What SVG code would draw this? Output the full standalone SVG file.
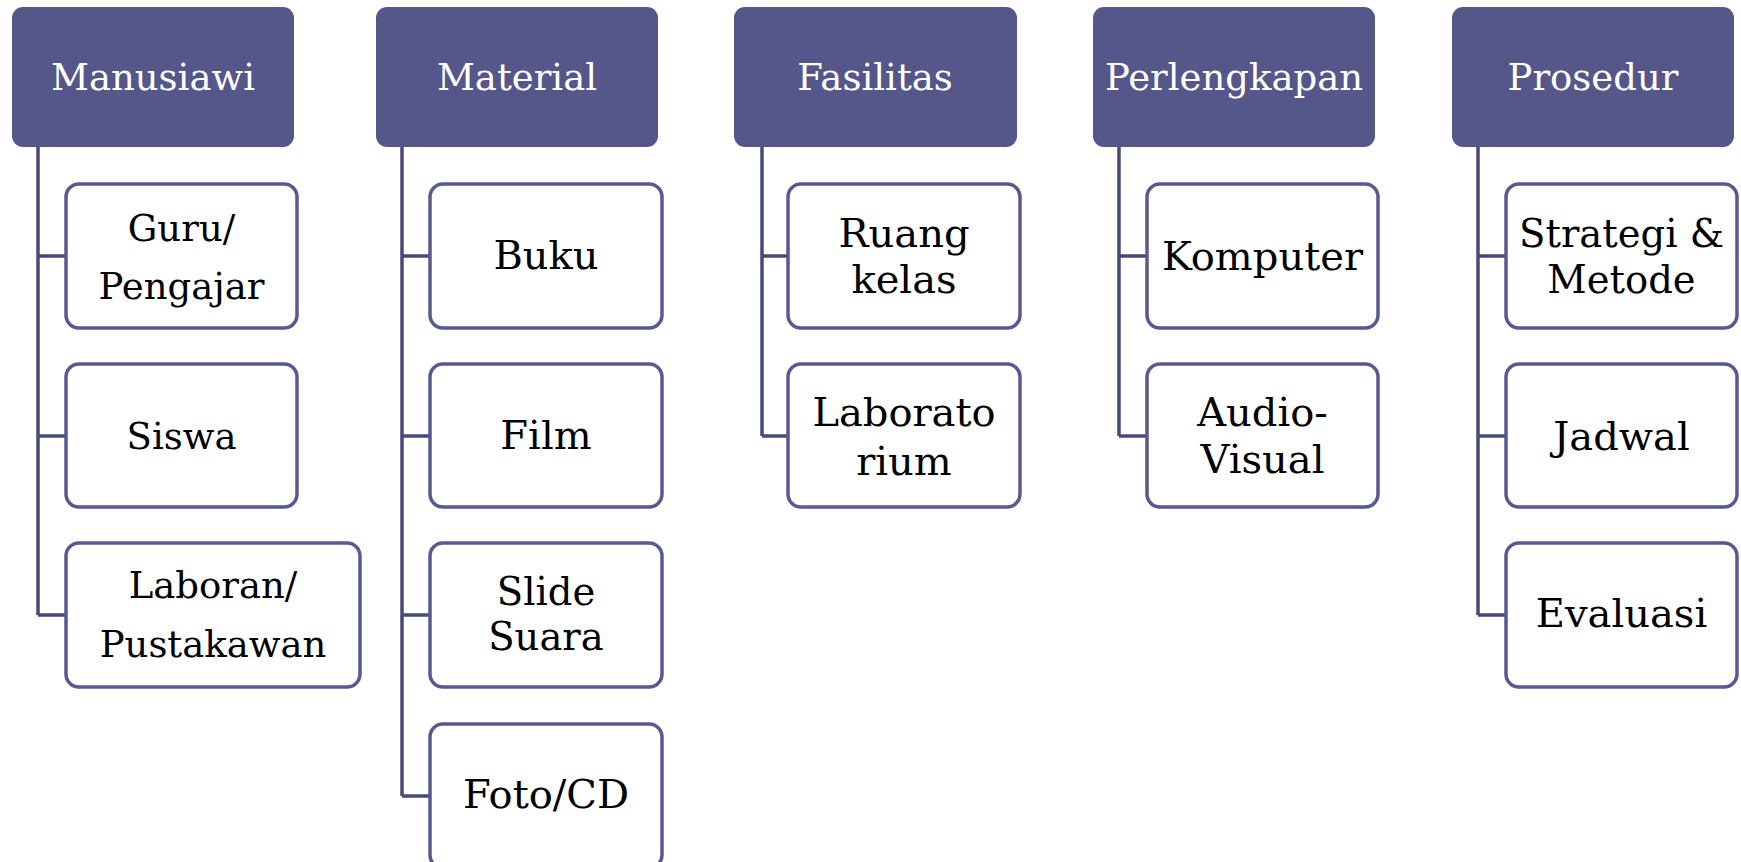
<svg xmlns="http://www.w3.org/2000/svg" width="1741" height="862" viewBox="0 0 1741 862">
<style>
.hdr{fill:#55568a;}
.box{fill:#ffffff;stroke:#575a92;stroke-width:3.5;}
.con{fill:none;stroke:#47497a;stroke-width:3.5;stroke-linejoin:miter;}
.ht{font-family:"DejaVu Serif","Liberation Serif",serif;font-size:37px;fill:#ffffff;text-anchor:middle;}
.ct{font-family:"DejaVu Serif","Liberation Serif",serif;font-size:37px;fill:#000000;text-anchor:middle;}
.l{font-size:40px;}
.m{font-size:38.5px;}
</style>
<rect width="1741" height="862" fill="#ffffff"/>
<g id="connectors">
<path class="con" d="M38,147 V615 M38,256 H66 M38,436 H66 M38,615 H66"/>
<path class="con" d="M402,147 V796 M402,256 H430 M402,436 H430 M402,615 H430 M402,796 H430"/>
<path class="con" d="M762,147 V436 M762,256 H788 M762,436 H788"/>
<path class="con" d="M1119,147 V436 M1119,256 H1147 M1119,436 H1147"/>
<path class="con" d="M1478,147 V615 M1478,256 H1506 M1478,436 H1506 M1478,615 H1506"/>
</g>
<g id="manusiawi"><rect class="hdr" x="12" y="7" width="282" height="140" rx="11"/><text class="ht" x="153" y="90">Manusiawi</text></g>
<g id="material"><rect class="hdr" x="376" y="7" width="282" height="140" rx="11"/><text class="ht" x="517" y="90">Material</text></g>
<g id="fasilitas"><rect class="hdr" x="734" y="7" width="283" height="140" rx="11"/><text class="ht" x="875" y="90">Fasilitas</text></g>
<g id="perlengkapan"><rect class="hdr" x="1093" y="7" width="282" height="140" rx="11"/><text class="ht" x="1234" y="90">Perlengkapan</text></g>
<g id="prosedur"><rect class="hdr" x="1452" y="7" width="282" height="140" rx="11"/><text class="ht" x="1593" y="90">Prosedur</text></g>

<g id="guru"><rect class="box" x="66" y="184" width="231" height="144" rx="13"/><text class="ct" x="181.5" y="241">Guru/</text><text class="ct" x="181.5" y="299">Pengajar</text></g>
<g id="siswa"><rect class="box" x="66" y="364" width="231" height="143" rx="13"/><text class="ct" x="181.5" y="449">Siswa</text></g>
<g id="laboran"><rect class="box" x="66" y="543" width="294" height="144" rx="13"/><text class="ct" x="213" y="598">Laboran/</text><text class="ct" x="213" y="657">Pustakawan</text></g>

<g id="buku"><rect class="box" x="430" y="184" width="232" height="144" rx="13"/><text class="ct l" x="546" y="269">Buku</text></g>
<g id="film"><rect class="box" x="430" y="364" width="232" height="143" rx="13"/><text class="ct l" x="546" y="449">Film</text></g>
<g id="slide"><rect class="box" x="430" y="543" width="232" height="144" rx="13"/><text class="ct m" x="546" y="605">Slide</text><text class="ct m" x="546" y="650">Suara</text></g>
<g id="foto"><rect class="box" x="430" y="724" width="232" height="144" rx="13"/><text class="ct l" x="546" y="808">Foto/CD</text></g>

<g id="ruang"><rect class="box" x="788" y="184" width="232" height="144" rx="13"/><text class="ct l" x="904" y="247">Ruang</text><text class="ct l" x="904" y="293">kelas</text></g>
<g id="laboratorium"><rect class="box" x="788" y="364" width="232" height="143" rx="13"/><text class="ct l" x="904" y="426">Laborato</text><text class="ct l" x="904" y="475">rium</text></g>

<g id="komputer"><rect class="box" x="1147" y="184" width="231" height="144" rx="13"/><text class="ct l" x="1262.5" y="270">Komputer</text></g>
<g id="audiovisual"><rect class="box" x="1147" y="364" width="231" height="143" rx="13"/><text class="ct l" x="1262.5" y="426">Audio-</text><text class="ct l" x="1262.5" y="473">Visual</text></g>

<g id="strategi"><rect class="box" x="1506" y="184" width="231" height="144" rx="13"/><text class="ct m" x="1621.5" y="247">Strategi &amp;</text><text class="ct m" x="1621.5" y="293">Metode</text></g>
<g id="jadwal"><rect class="box" x="1506" y="364" width="231" height="143" rx="13"/><text class="ct l" x="1621.5" y="450">Jadwal</text></g>
<g id="evaluasi"><rect class="box" x="1506" y="543" width="231" height="144" rx="13"/><text class="ct l" x="1621.5" y="627">Evaluasi</text></g>
</svg>
